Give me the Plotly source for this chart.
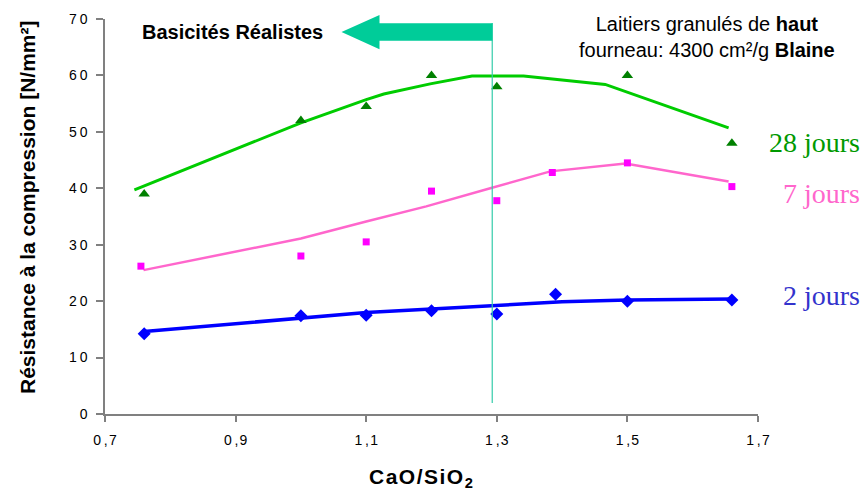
import plotly.graph_objects as go

# ---- data ----
x_28 = [0.76, 1.0, 1.1, 1.2, 1.3, 1.5, 1.66]
y_28 = [39.0, 52.0, 54.5, 60.0, 58.0, 60.0, 48.0]
x_28_fit = [0.745, 1.0, 1.10, 1.127, 1.198, 1.262, 1.341, 1.466, 1.655]
y_28_fit = [39.7, 51.6, 55.7, 56.7, 58.5, 59.9, 59.9, 58.4, 50.7]

x_7 = [0.755, 1.0, 1.1, 1.2, 1.3, 1.385, 1.5, 1.66]
y_7 = [26.2, 28.0, 30.5, 39.5, 37.8, 42.8, 44.5, 40.3]
x_7_fit = [0.759, 0.9, 1.0, 1.1, 1.192, 1.29, 1.382, 1.497, 1.655]
y_7_fit = [25.5, 28.7, 31.1, 34.1, 36.8, 40.0, 43.0, 44.4, 41.2]

x_2 = [0.76, 1.0, 1.1, 1.2, 1.3, 1.39, 1.5, 1.66]
y_2 = [14.2, 17.4, 17.5, 18.3, 17.7, 21.2, 20.0, 20.2]
x_2_fit = [0.76, 0.8, 0.9, 1.0, 1.1, 1.2, 1.3, 1.4, 1.5, 1.6, 1.66]
y_2_fit = [14.6, 15.0, 16.0, 17.0, 18.0, 18.6, 19.3, 19.9, 20.2, 20.4, 20.4]

x_ticks = [0.7, 0.9, 1.1, 1.3, 1.5, 1.7]
x_tick_labels = ["0\u2009,\u200a7", "0\u2009,\u200a9", "1\u2009,\u200a1",
                 "1\u2009,\u200a3", "1\u2009,\u200a5", "1\u2009,\u200a7"]
y_ticks = [0, 10, 20, 30, 40, 50, 60, 70]
y_tick_labels = ["0", "1\u20090", "2\u20090", "3\u20090", "4\u20090", "5\u20090", "6\u20090", "7\u20090"]

basicity_limit = 1.293

FONT = "Liberation Sans, Arial, sans-serif"
SERIF = "Liberation Serif, Times New Roman, serif"

fig = go.Figure()
fig.add_trace(go.Scatter(x=x_28_fit, y=y_28_fit, mode="lines",
                         line=dict(color="#00CC00", width=3), hoverinfo="skip"))
fig.add_trace(go.Scatter(x=x_7_fit, y=y_7_fit, mode="lines",
                         line=dict(color="#FF66CC", width=2.5), hoverinfo="skip"))
fig.add_trace(go.Scatter(x=x_2_fit, y=y_2_fit, mode="lines",
                         line=dict(color="#0000FF", width=3.5), hoverinfo="skip"))
fig.add_trace(go.Scatter(x=x_28, y=y_28, mode="markers",
                         marker=dict(symbol="triangle-up", color="#008000", size=10)))
fig.add_trace(go.Scatter(x=x_7, y=y_7, mode="markers",
                         marker=dict(symbol="square", color="#FF00FF", size=7)))
fig.add_trace(go.Scatter(x=x_2, y=y_2, mode="markers",
                         marker=dict(symbol="diamond", color="#0000FF", size=10)))

L, R, T, B = 105, 106, 19, 76
W, H = 864, 490
pw, ph = W - L - R, H - T - B

def px2paper_x(px):
    return (px - L) / pw

def px2paper_y(py):
    return (H - B - py) / ph

# vertical basicity line
fig.add_shape(type="line", xref="x", yref="paper", x0=basicity_limit, x1=basicity_limit,
              y0=px2paper_y(403), y1=px2paper_y(23), line=dict(color="#33CCAA", width=1.2))

# block arrow (pointing left)
tip = (px2paper_x(341.5), px2paper_y(32))
hb = px2paper_x(379.5)
tail = px2paper_x(492.5)
path = (f"M {tip[0]},{tip[1]} L {hb},{px2paper_y(15)} L {hb},{px2paper_y(23.3)} "
        f"L {tail},{px2paper_y(23.3)} L {tail},{px2paper_y(40.7)} L {hb},{px2paper_y(40.7)} "
        f"L {hb},{px2paper_y(49.3)} Z")
fig.add_shape(type="path", xref="paper", yref="paper", path=path,
              fillcolor="#00CC99", line=dict(width=0))

def note(text, px, py, xanchor="center", yanchor="middle", **kw):
    d = dict(text=text, xref="paper", yref="paper", x=px2paper_x(px), y=px2paper_y(py),
             xanchor=xanchor, yanchor=yanchor, showarrow=False)
    d.update(kw)
    return d

ann = [
    note("<b>Basicités Réalistes</b>", 232.5, 32, font=dict(family=FONT, size=20, color="black")),
    note("Laitiers granulés de <b>haut</b><br>fourneau: 4300 cm²/g <b>Blaine</b>", 707, 37,
         align="center", font=dict(family=FONT, size=20, color="black")),
    note("28 jours", 862, 142, xanchor="right", font=dict(family=SERIF, size=28, color="#009900")),
    note("7 jours", 862, 193, xanchor="right", font=dict(family=SERIF, size=28, color="#FF66CC")),
    note("2 jours", 862, 295, xanchor="right", font=dict(family=SERIF, size=28, color="#3333CC")),
    note("<b>Résistance à la compression [N/mm²]</b>", 27, 200, textangle=-90,
         font=dict(family=FONT, size=21, color="black")),
    note("<b>CaO/SiO<sub>2</sub></b>", 421, 478, font=dict(family=FONT, size=21, color="black")),
]

fig.update_layout(
    width=W, height=H,
    margin=dict(l=L, r=R, t=T, b=B),
    paper_bgcolor="white", plot_bgcolor="white",
    showlegend=False,
    annotations=ann,
    xaxis=dict(range=[0.7, 1.7], tickvals=x_ticks, ticktext=x_tick_labels,
               showgrid=False, zeroline=False, showline=True, linecolor="#808080", linewidth=1.5,
               ticks="outside", ticklen=6, tickcolor="#808080", tickwidth=1.5,
               ticklabelstandoff=6,
               tickfont=dict(family=FONT, size=14, color="black")),
    yaxis=dict(range=[0, 70], tickvals=y_ticks, ticktext=y_tick_labels,
               showgrid=False, zeroline=False, showline=True, linecolor="#808080", linewidth=1.5,
               ticks="outside", ticklen=7, tickcolor="#808080", tickwidth=1.5,
               ticklabelstandoff=6,
               tickfont=dict(family=FONT, size=14, color="black")),
)

post = """
document.body.style.margin='0';
document.body.style.padding='0';
var gd=document.querySelector('.js-plotly-plot');
gd.querySelectorAll('text.annotation-text').forEach(function(t){
  var s=t.textContent;
  if(s.indexOf('sistance')>=0){
    var r=t.getBoundingClientRect();
    var g=t.closest('g.annotation');
    var dx=27-(r.left+r.right)/2, dy=394-r.bottom;
    g.setAttribute('transform','translate('+dx+','+dy+')');
  }
  if(s.indexOf('CaO')>=0){ t.style.letterSpacing='1.5px'; }
});
"""

fig.write_html("out.html", post_script=post, config={"displayModeBar": False})
